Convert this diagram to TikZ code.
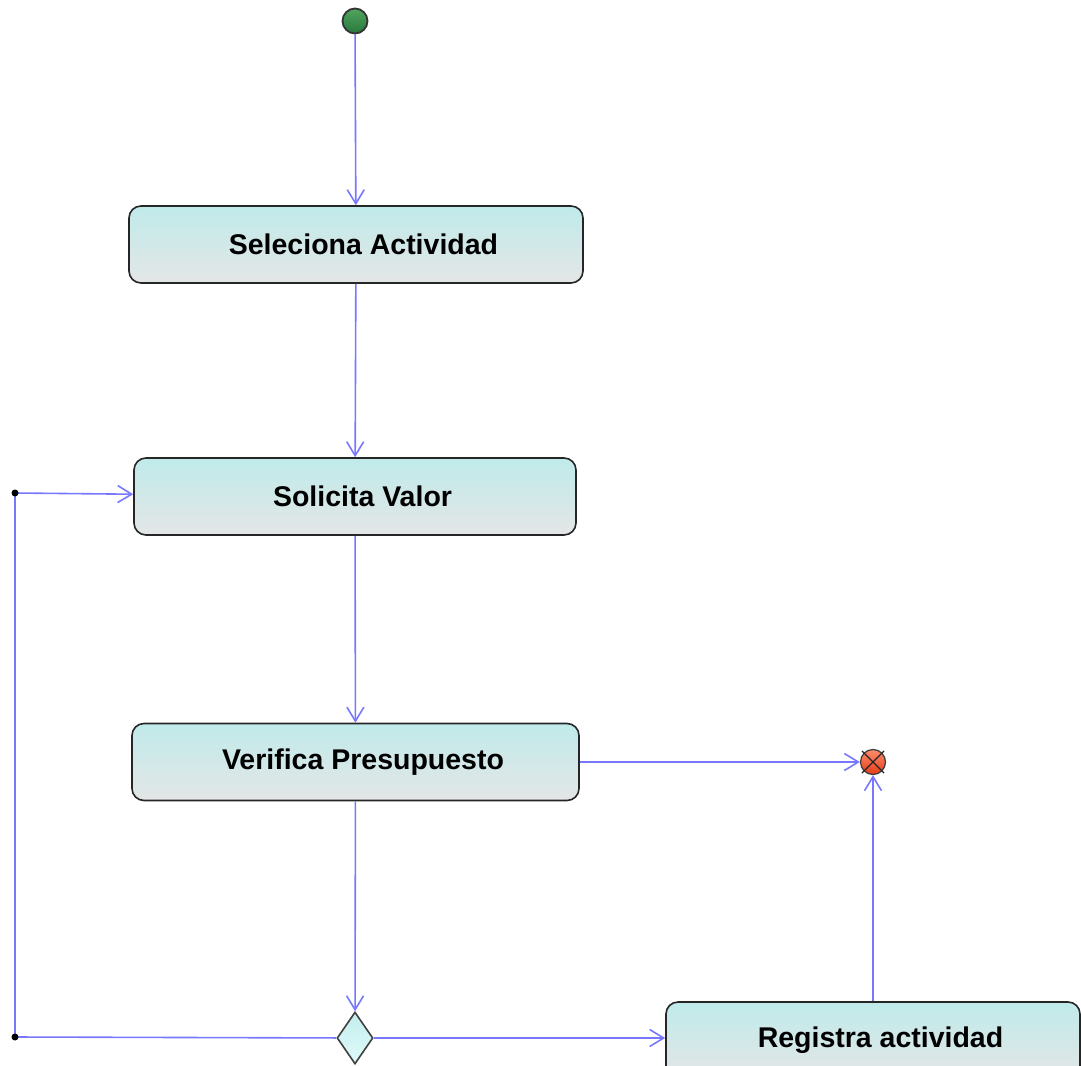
\documentclass[tikz,border=0pt]{standalone}
\usepackage{fontspec}
\setmainfont{Liberation Sans}
\usetikzlibrary{shapes,arrows,arrows.meta,positioning,backgrounds}

\definecolor{cajaTop}{RGB}{192,234,234}
\definecolor{cajaBot}{RGB}{228,230,230}
\definecolor{flujo}{RGB}{120,120,255}

\begin{document}
\begin{tikzpicture}[x=1pt, y=-1pt]
		\tikzstyle{Accion}	= [rectangle, rounded corners=12pt, draw=black!85, line width=1.6pt, top color=cajaTop, bottom color=cajaBot, minimum height=77pt, inner sep=0pt, font=\fontsize{28.5}{30}\selectfont\bfseries, execute at begin node=\hspace*{15pt}]
		\tikzstyle{Inicio}	= [circle, draw=black!80, line width=1.8pt, top color={rgb,255:red,80;green,165;blue,95}, bottom color={rgb,255:red,40;green,120;blue,60}, minimum size=25pt, inner sep=0pt]
		\tikzstyle{Fin}		= [circle, draw=black!75, line width=1.3pt, top color={rgb,255:red,255;green,140;blue,110}, bottom color={rgb,255:red,230;green,60;blue,20}, minimum size=25pt, inner sep=0pt]
		\tikzstyle{Decision}	= [diamond, draw=black!75, line width=1.6pt, top color={rgb,255:red,195;green,238;blue,238}, bottom color={rgb,255:red,225;green,250;blue,250}, minimum width=36pt, minimum height=52pt, inner sep=0pt]
		\tikzstyle{Flujo}	= [draw=flujo, line width=1.6pt, -{Straight Barb[length=14pt, width=17pt, line width=1.6pt]}]

		\useasboundingbox (0, 0) rectangle (1081, 1065);
		\clip (0, 0) rectangle (1081, 1065);

		\node (inicio) at (355, 21) [Inicio] {};
		\node (sel) at (356, 244.5) [Accion, minimum width=454pt] {Seleciona Actividad};
		\node (sol) at (355, 496.5) [Accion, minimum width=442pt] {Solicita Valor};
		\node (ver) at (355.5, 762) [Accion, minimum width=447pt] {Verifica Presupuesto};
		\node (dec) at (355, 1038) [Decision] {};
		\node (reg) at (873, 1040.5) [Accion, minimum width=414pt] {Registra actividad};
		\node (fin) at (873, 762) [Fin] {};
		\coordinate (c1) at (15, 1037);
		\coordinate (c2) at (15, 493);

		\draw [black!85, line width=1.2pt, shorten <=-2.5pt, shorten >=-2.5pt] (fin.north west) -- (fin.south east);
		\draw [black!85, line width=1.2pt, shorten <=-2.5pt, shorten >=-2.5pt] (fin.north east) -- (fin.south west);

		\draw [Flujo] (inicio) to (sel);
		\draw [Flujo] (sel) to (sol);
		\draw [Flujo] (sol) to (ver);
		\draw [Flujo] (ver) to (dec);
		\draw [Flujo] (dec) -- (c1) -- (c2) -- (sol);
		\draw [Flujo] (dec.east) -- (dec.east -| reg.west);
		\draw [Flujo] (ver) to (fin);
		\draw [Flujo] (reg) to (fin);

		\fill (c1) circle (3.5pt);
		\fill (c2) circle (3.5pt);
	\end{tikzpicture}
\end{document}
